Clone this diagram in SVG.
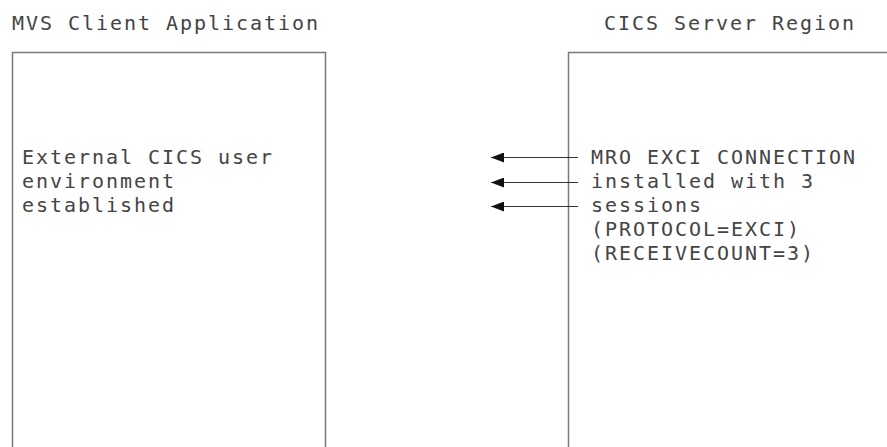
<svg xmlns="http://www.w3.org/2000/svg" width="887" height="447" viewBox="0 0 887 447">
<defs>
<style>
text{font-family:"DejaVu Sans Mono","Liberation Mono",monospace;font-size:20px;letter-spacing:1.96px;fill:#444}
.box{fill:none;stroke:#7a7a7a;stroke-width:1.5}
.conn{stroke:#333;stroke-width:1;fill:none}
</style>
<marker id="ah" viewBox="0 0 13 10" refX="13" refY="5" markerWidth="13" markerHeight="10" markerUnits="userSpaceOnUse" orient="auto">
<path d="M0,0 L13,5 L0,10 Z" fill="#111"/>
</marker>
</defs>
<rect width="887" height="447" fill="#fff"/>
<g id="client">
<text x="12" y="30">MVS Client Application</text>
<path class="box" d="M12.5,448 V52.5 H325.5 V448"/>
<text x="22" y="164">External CICS user</text>
<text x="22" y="188">environment</text>
<text x="22" y="212">established</text>
</g>
<g id="server">
<text x="604" y="30">CICS Server Region</text>
<path class="box" d="M568.5,448 V52.5 H888"/>
<text x="591" y="164">MRO EXCI CONNECTION</text>
<text x="591" y="188">installed with 3</text>
<text x="591" y="212">sessions</text>
<text x="591" y="236">(PROTOCOL=EXCI)</text>
<text x="591" y="260">(RECEIVECOUNT=3)</text>
</g>
<g id="connectors">
<line class="conn" x1="578" y1="157.5" x2="491" y2="157.5" marker-end="url(#ah)"/>
<line class="conn" x1="578" y1="182.5" x2="491" y2="182.5" marker-end="url(#ah)"/>
<line class="conn" x1="578" y1="206.5" x2="491" y2="206.5" marker-end="url(#ah)"/>
</g>
</svg>
